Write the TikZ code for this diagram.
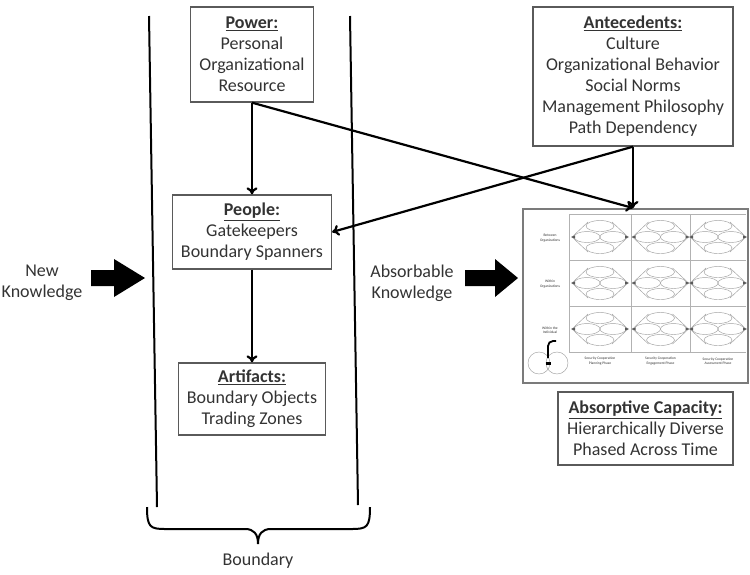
\documentclass[tikz,border=0pt]{standalone}
\usepackage{fontspec}
\setmainfont{Carlito}
\usetikzlibrary{arrows.meta}
\definecolor{txt}{HTML}{333333}
\definecolor{boxc}{HTML}{5A5A5A}
\tikzset{
 lbl/.style={font=\fontsize{18}{21}\selectfont, text=txt, align=center, inner sep=0pt},
 box/.style={draw=boxc, line width=1.3pt, lbl},
 conn/.style={line width=2.2pt, -{To[length=7pt,width=11pt]}},
 fat/.style={fill=black},
 bline/.style={line width=2pt},
 tiny/.style={font=\fontsize{3.6}{4.3}\selectfont, text=txt, align=center, inner sep=0pt},
 cellline/.style={draw=gray!75, line width=0.45pt},
}
\newcommand{\hd}[1]{\underline{\textbf{#1}}}
\begin{document}
\begin{tikzpicture}[x=1pt,y=-1pt]
\useasboundingbox (0,0) rectangle (750,574);
% boundary lines
\coordinate (lt) at (149,16);
\coordinate (lb) at (157,507);
\coordinate (rt) at (350,16);
\coordinate (rb) at (358,505);
\draw[bline] (lt) -- (lb);
\draw[bline] (rt) -- (rb);
% brace
\draw[bline] (147,507) .. controls (147,527) and (150,529) .. (165,529) -- (245,529)
  .. controls (254,529) and (258,534) .. (258,544)
  .. controls (258,534) and (262,529) .. (271,529) -- (352,529)
  .. controls (367,529) and (370,527) .. (370,507);
\node[lbl] (boundary) at (258,561) {Boundary};
% boxes
\node[box, minimum width=123pt, minimum height=95pt] (power) at (252,54.5) {\hd{Power:}\\Personal\\Organizational\\Resource};
\node[box, minimum width=200pt, minimum height=139pt] (antec) at (633,76.5) {\hd{Antecedents:}\\Culture\\Organizational Behavior\\Social Norms\\Management Philosophy\\Path Dependency};
\node[box, minimum width=159pt, minimum height=74pt] (people) at (252,232) {\hd{People:}\\Gatekeepers\\Boundary Spanners};
\node[box, minimum width=147pt, minimum height=72pt] (artif) at (252,399) {\hd{Artifacts:}\\Boundary Objects\\Trading Zones};
\node[box, minimum width=175pt, minimum height=73pt] (absorb) at (645.5,428.5) {\hd{Absorptive Capacity:}\\Hierarchically Diverse\\Phased Across Time};
% side labels
\node[lbl] (newk) at (42,283) {New\\Knowledge};
\node[lbl] (absk) at (412,283) {Absorbable\\Knowledge};
% fat arrows
\fill[fat] (91,270) -- (114,270) -- (114,259) -- (145,278) -- (114,297) -- (114,286) -- (91,286) -- cycle;
\fill[fat] (465,270) -- (495,270) -- (495,259) -- (518,278) -- (495,297) -- (495,286) -- (465,286) -- cycle;
% thumbnail
\node[draw=boxc!80, line width=1.5pt, minimum width=225pt, minimum height=174pt, inner sep=0pt, fill=white] (thumb) at (635.5,296) {};
\coordinate (tgt) at (633,208);
% grid
\foreach \gx in {569,631,690} \draw[draw=gray!60, line width=0.5pt] (\gx,214) -- (\gx,352);
\foreach \gy in {214,260,306,352} \draw[draw=gray!60, line width=0.5pt] (569,\gy) -- (746,\gy);
\foreach \cx in {600,660.5,718} {
  \foreach \cy in {237,283,329} {
    \draw[cellline] (\cx,\cy-11) ellipse [x radius=14pt, y radius=5.5pt];
    \draw[cellline] (\cx-13,\cy) ellipse [x radius=13pt, y radius=5.5pt];
    \draw[cellline] (\cx+13,\cy) ellipse [x radius=13pt, y radius=5.5pt];
    \draw[cellline] (\cx,\cy+11) ellipse [x radius=14pt, y radius=5.5pt];
    \draw[cellline] (\cx-28,\cy) -- (\cx-12,\cy-15) (\cx+12,\cy-15) -- (\cx+28,\cy) -- (\cx+12,\cy+15) (\cx-12,\cy+15) -- (\cx-28,\cy);
    \fill[gray!70!black] (\cx-29,\cy) -- (\cx-25,\cy-1.6) -- (\cx-25,\cy+1.6) -- cycle;
    \fill[gray!70!black] (\cx+29,\cy) -- (\cx+25,\cy-1.6) -- (\cx+25,\cy+1.6) -- cycle;
  }
}
\node[tiny] (r1) at (550,238) {Between\\Organizations};
\node[tiny] (r2) at (550,284) {Within\\Organizations};
\node[tiny] (r3) at (550,330) {Within the\\Individual};
\node[tiny] (c1) at (600,361) {Security Cooperation\\Planning Phase};
\node[tiny] (c2) at (660.5,361) {Security Cooperation\\Engagement Phase};
\node[tiny] (c3) at (718,361) {Security Cooperation\\Assessment Phase};
\draw[cellline] (539,363) circle (11pt);
\draw[cellline] (557,363) circle (11pt);
\fill[black] (545.5,361.5) rectangle (550.5,364.5);
\draw[line width=1.8pt] (548,358) -- (548,346) to[out=90,in=180] (553,341) -- (556,341);
% connectors
\draw[conn] (power.south) -- (power.south |- people.north);
\draw[conn] (people.south) -- (people.south |- artif.north);
\draw[conn] (power.south) -- (tgt);
\draw[conn] (antec.south) -- (tgt);
\draw[conn] (antec.south) -- (people.east);
\end{tikzpicture}
\end{document}
